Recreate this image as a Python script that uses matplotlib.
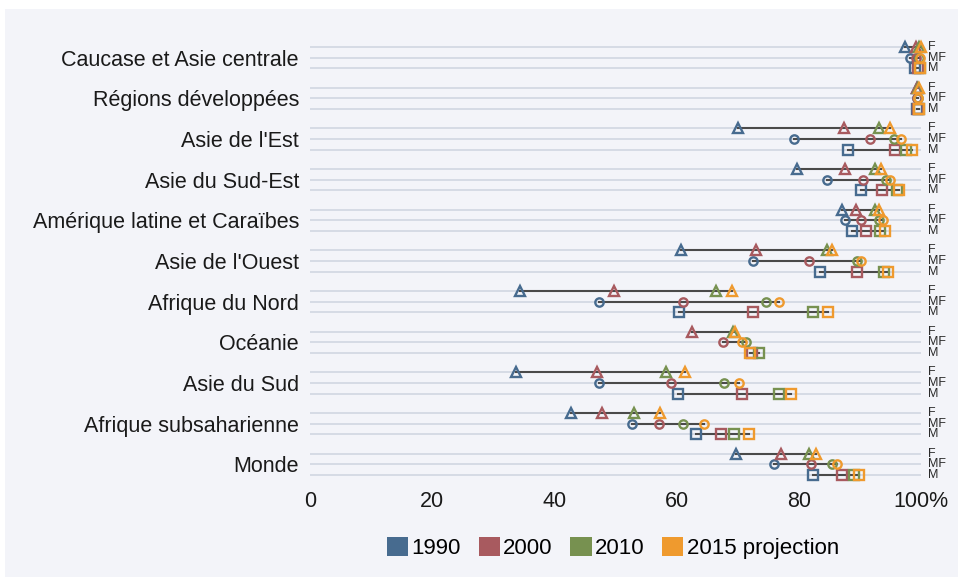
import numpy as np
import matplotlib
matplotlib.use("Agg")
import matplotlib.pyplot as plt
from matplotlib.patches import Patch, Rectangle
from matplotlib.transforms import blended_transform_factory

plt.rcParams['font.family'] = ['Liberation Sans', 'DejaVu Sans']

# ==========================================
# Data (youth literacy rate, %)
# ==========================================

regions = [
    "Caucase et Asie centrale",
    "Régions développées",
    "Asie de l'Est",
    "Asie du Sud-Est",
    "Amérique latine et Caraïbes",
    "Asie de l'Ouest",
    "Afrique du Nord",
    "Océanie",
    "Asie du Sud",
    "Afrique subsaharienne",
    "Monde",
]

years = ["1990", "2000", "2010", "2015 projection"]
nan = np.nan

f_1990 = [97.4, 99.3, 70.0, 79.7, 87.0, 60.7, 34.4, nan, 33.7, 42.7, 69.7]
f_2000 = [99.2, 99.4, 87.4, 87.6, 89.4, 73.0, 49.7, 62.6, 47.0, 47.8, 77.1]
f_2010 = [99.7, 99.5, 93.2, 92.4, 92.4, 84.6, 66.5, 69.3, 58.2, 53.1, 81.6]
f_2015 = [100.0, 99.6, 94.9, 93.4, 93.2, 85.5, 69.0, 69.5, 61.4, 57.3, 82.8]

mf_1990 = [98.2, 99.3, 79.2, 84.6, 87.6, 72.5, 47.3, nan, 47.3, 52.7, 76.0]
mf_2000 = [99.1, 99.4, 91.7, 90.5, 90.1, 81.6, 61.0, 67.6, 59.1, 57.2, 82.0]
mf_2010 = [99.7, 99.5, 95.6, 94.3, 93.2, 89.5, 74.6, 71.3, 67.7, 61.0, 85.5]
mf_2015 = [99.9, 99.5, 96.8, 94.9, 93.7, 90.2, 76.8, 70.7, 70.2, 64.5, 86.3]

m_1990 = [99.0, 99.4, 88.0, 90.1, 88.7, 83.5, 60.4, nan, 60.2, 63.2, 82.4]
m_2000 = [99.5, 99.5, 95.7, 93.6, 91.0, 89.5, 72.5, 72.4, 70.7, 67.3, 87.0]
m_2010 = [99.8, 99.6, 97.6, 96.0, 93.3, 93.9, 82.4, 73.5, 76.8, 69.4, 89.0]
m_2015 = [99.9, 99.6, 98.6, 96.4, 94.1, 94.6, 84.8, 72.0, 78.7, 71.9, 89.9]

colors = ["#476b8f", "#a85a5f", "#779150", "#ef9a2e"]

rows = [
    ("F", "^", 7.5, -0.26, [f_1990, f_2000, f_2010, f_2015]),
    ("MF", "o", 6.0, 0.0, [mf_1990, mf_2000, mf_2010, mf_2015]),
    ("M", "s", 6.5, 0.26, [m_1990, m_2000, m_2010, m_2015]),
]

# ==========================================
# Figure
# ==========================================

fig = plt.figure(figsize=(9.58, 5.77), dpi=100)
fig.patch.set_facecolor("#f3f4f9")
# white strip at the top and left edge
fig.patches.append(Rectangle((0, 1 - 9 / 577), 1, 9 / 577,
                             transform=fig.transFigure,
                             facecolor="white", edgecolor="none", zorder=-1))
fig.patches.append(Rectangle((0, 0), 0.005, 1,
                             transform=fig.transFigure,
                             facecolor="white", edgecolor="none", zorder=-1))

ax = fig.add_axes([310 / 958, 87 / 577, 611 / 958, 460 / 577])
ax.set_facecolor("none")

ypos = np.arange(len(regions))
trans = blended_transform_factory(ax.transAxes, ax.transData)

for label, marker, ms, off, series in rows:
    vals = np.array(series, dtype=float)
    y = ypos + off
    for i in range(len(regions)):
        ax.plot([0, 100], [y[i], y[i]], color="#d3d9e3", lw=1.3, zorder=1,
                solid_capstyle="butt")
        v = vals[:, i]
        ok = ~np.isnan(v)
        ax.plot([v[ok].min(), v[ok].max()], [y[i], y[i]],
                color="#4a4a4a", lw=1.5, zorder=2)
        ax.text(1.012, y[i], label, transform=trans, fontsize=9,
                color="#2a2a2a", va="center", ha="left")
    for k in range(len(years)):
        ax.plot(vals[k], y, linestyle="none", marker=marker, ms=ms,
                mfc="none", mec=colors[k], mew=1.7, zorder=3 + k,
                clip_on=False)

ax.set_xlim(0, 100)
ax.set_ylim(10.629, -0.678)

ax.set_xticks([0, 20, 40, 60, 80, 100])
ax.set_xticklabels(["0", "20", "40", "60", "80", "100%"], fontsize=15.5,
                   color="#1a1a1a")
ax.set_yticks(ypos)
ax.set_yticklabels(regions, fontsize=15.5, color="#1a1a1a")
ax.tick_params(axis="both", length=0)
ax.tick_params(axis="y", pad=8)
ax.tick_params(axis="x", pad=1)

for s in ax.spines.values():
    s.set_visible(False)

# ==========================================
# Legend
# ==========================================

handles = [Patch(facecolor=c, edgecolor="none") for c in colors]
fig.legend(handles, years, loc="center", bbox_to_anchor=(613 / 958, 1 - 548 / 577),
           ncol=4, frameon=False, fontsize=16, handlelength=0.95,
           handleheight=0.95, handletextpad=0.15, columnspacing=0.8)

fig.savefig("out.png", dpi=100, facecolor=fig.get_facecolor())
